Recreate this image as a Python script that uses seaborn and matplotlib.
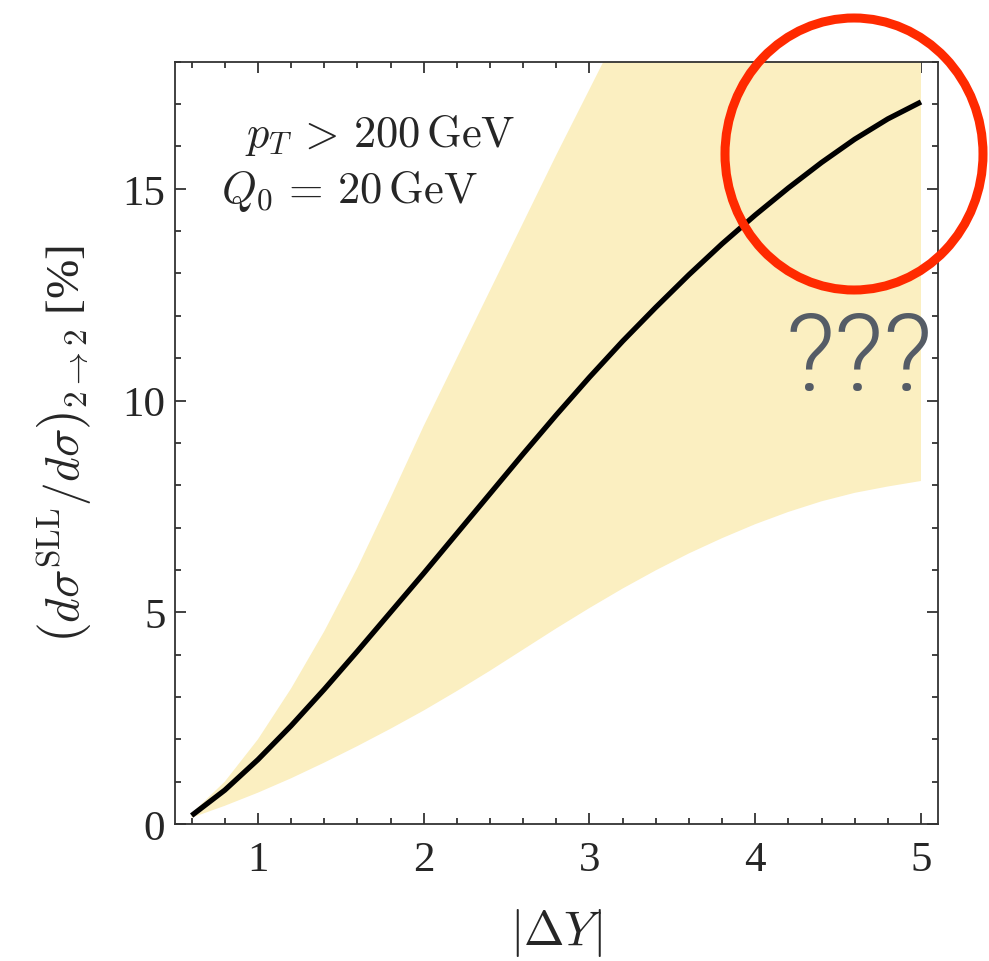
import os
import numpy as np
import pandas as pd
import matplotlib
matplotlib.use("Agg")
import matplotlib.pyplot as plt
from matplotlib import font_manager
from matplotlib.patches import Ellipse
from matplotlib.ticker import MultipleLocator, FixedLocator
import seaborn as sns

# =========================
# Data
# =========================
delta_y = [0.6, 0.8, 1.0, 1.2, 1.4, 1.6, 1.8, 2.0, 2.2, 2.4, 2.6, 2.8,
           3.0, 3.2, 3.4, 3.6, 3.8, 4.0, 4.2, 4.4, 4.6, 4.8, 5.0]
central = [0.2, 0.8, 1.52, 2.32, 3.18, 4.08, 5.0, 5.92, 6.86, 7.8, 8.74, 9.66,
           10.55, 11.4, 12.2, 12.97, 13.7, 14.38, 15.02, 15.62, 16.17, 16.65, 17.05]
band_hi = [0.25, 1.0, 2.0, 3.2, 4.55, 6.05, 7.7, 9.4, 11.0, 12.6, 14.2, 15.8,
           17.35, 18.9, 20.5, 22.0, 23.4, 24.8, 26.1, 27.4, 28.6, 29.8, 31.0]
band_lo = [0.15, 0.43, 0.74, 1.08, 1.45, 1.84, 2.25, 2.68, 3.14, 3.62, 4.12, 4.62,
           5.1, 5.56, 5.99, 6.39, 6.75, 7.08, 7.37, 7.62, 7.82, 7.97, 8.1]

x_major = [1, 2, 3, 4, 5]
y_major = [0, 5, 10, 15]

df = pd.DataFrame({"dY": delta_y, "ratio": central, "hi": band_hi, "lo": band_lo})

# =========================
# Style
# =========================
sns.set_style("ticks")
plt.rcParams["font.family"] = ["Liberation Serif", "DejaVu Serif"]
plt.rcParams["mathtext.fontset"] = "cm"

FRAME = "#333333"

# a light sans face for the "???" overlay, if one is installed
light_font = None
wanted = ["roboto-light.ttf", "opensans-light.ttf", "lato-light.ttf"]
found = {os.path.basename(f).lower(): f for f in font_manager.findSystemFonts()}
for name in wanted:
    if name in found:
        light_font = font_manager.FontProperties(fname=found[name], size=78)
        break
if light_font is None:
    light_font = font_manager.FontProperties(family=["Roboto", "DejaVu Sans"],
                                             weight=300, size=78)

fig = plt.figure(figsize=(9.89, 9.62), dpi=100)
ax = fig.add_axes([0.177, 0.1424, 0.771, 0.7924])

# uncertainty band + central curve
ax.fill_between(df["dY"], df["lo"], df["hi"], color="#fbefc1", linewidth=0, zorder=1)
sns.lineplot(data=df, x="dY", y="ratio", ax=ax, color="black", linewidth=3.8,
             solid_capstyle="butt", zorder=3)

ax.set_xlim(0.5, 5.1)
ax.set_ylim(0, 18)

ax.xaxis.set_major_locator(FixedLocator(x_major))
ax.xaxis.set_minor_locator(MultipleLocator(0.2))
ax.yaxis.set_major_locator(FixedLocator(y_major))
ax.yaxis.set_minor_locator(MultipleLocator(1))
ax.xaxis.set_ticks_position("both")
ax.yaxis.set_ticks_position("both")

for axis_name, pad in (("x", 12), ("y", 7)):
    ax.tick_params(axis=axis_name, which="major", direction="in", color=FRAME,
                   width=1.3, length=8, labelsize=31, pad=pad)
    ax.tick_params(axis=axis_name, which="minor", direction="in", color=FRAME,
                   width=1.3, length=4.5)

for side in ax.spines.values():
    side.set_visible(True)
    side.set_color(FRAME)
    side.set_linewidth(1.3)

ax.set_xlabel(r"$|\Delta Y|$", fontsize=35, labelpad=19)
ax.set_ylabel(r"$\left(d\sigma^{\mathrm{SLL}}/d\sigma\right)_{2\to 2}$ [%]",
              fontsize=34, labelpad=21)

# annotations
ax.text(0.92, 16.27, r"$p_T\,>\,200\,\mathrm{GeV}$", fontsize=32, va="center", ha="left")
ax.text(0.78, 14.97, r"$Q_0\,=\,20\,\mathrm{GeV}$", fontsize=32, va="center", ha="left")

# overlay: red hand-drawn circle and question marks
ring = Ellipse((8.54, 9.62 - 1.55), 2.58, 2.72, fill=False, edgecolor="#ff2a00",
               linewidth=6.5, transform=fig.dpi_scale_trans, clip_on=False, zorder=10)
fig.patches.append(ring)
fig.text(859 / 989, 1 - 362 / 962, "???", fontproperties=light_font, color="#555c66",
         ha="center", va="center")

plt.savefig("out.png", dpi=100)
plt.close()
